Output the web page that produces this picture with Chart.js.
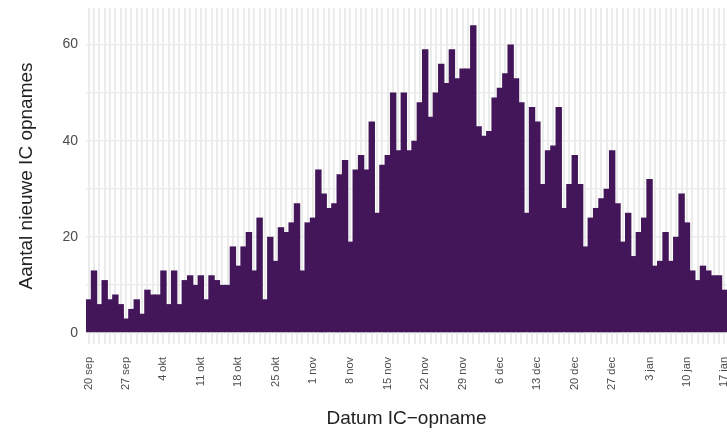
<!DOCTYPE html>
<html>
<head>
<meta charset="utf-8">
<title>IC opnames</title>
<script src="https://cdn.jsdelivr.net/npm/chart.js@4/dist/chart.umd.min.js"></script>
<style>
  html, body { margin: 0; padding: 0; background: #fff; overflow: hidden; }
  #wrap { width: 727px; height: 432px; }
</style>
</head>
<body>
<div id="wrap"><canvas id="chart"></canvas></div>
<script>
// dagelijkse nieuwe IC opnames, vanaf 20 sep
const startDay = new Date(2020, 8, 20);
const monthNames = ['jan', 'feb', 'mrt', 'apr', 'mei', 'jun', 'jul', 'aug', 'sep', 'okt', 'nov', 'dec'];

const admissions = [
  7, 13, 6, 11, 7, 8, 6, 3, 5, 7,
  4, 9, 8, 8, 13, 6, 13, 6, 11, 12,
  10, 12, 7, 12, 11, 10, 10, 18, 14, 18,
  21, 13, 24, 7, 20, 15, 22, 21, 23, 27,
  13, 23, 24, 34, 29, 26, 27, 33, 36, 19,
  34, 37, 34, 44, 25, 35, 37, 50, 38, 50,
  38, 40, 48, 59, 45, 50, 56, 52, 59, 53,
  55, 55, 64, 43, 41, 42, 49, 51, 54, 60,
  53, 48, 25, 47, 44, 31, 38, 39, 47, 26,
  31, 37, 31, 18, 24, 26, 28, 30, 38, 27,
  19, 25, 16, 21, 24, 32, 14, 15, 21, 15,
  20, 29, 23, 13, 11, 14, 13, 12, 12, 9
];

const yTicks = [0, 10, 20, 30, 40, 50, 60];
const yLabelled = [0, 20, 40, 60];
const tickEvery = 7; // een label per week

const days = admissions.map((v, i) => {
  const d = new Date(startDay);
  d.setDate(d.getDate() + i);
  return d.getDate() + ' ' + monthNames[d.getMonth()];
});

const fontFamily = '"Liberation Sans", Arial, sans-serif';
const barColor = '#43165a';
const gridColor = '#ebebeb';

new Chart(document.getElementById('chart'), {
  type: 'bar',
  data: {
    labels: days,
    datasets: [{
      data: admissions,
      backgroundColor: barColor,
      borderWidth: 0,
      barPercentage: 1.2,
      categoryPercentage: 1
    }]
  },
  options: {
    responsive: true,
    maintainAspectRatio: false,
    animation: false,
    layout: { padding: { top: 8, left: 0, right: 0, bottom: 0 } },
    plugins: {
      legend: { display: false },
      tooltip: { enabled: false }
    },
    scales: {
      x: {
        grid: { offset: false, color: gridColor, lineWidth: 2, drawTicks: false },
        border: { display: false },
        ticks: {
          autoSkip: false,
          minRotation: 90,
          maxRotation: 90,
          padding: 13,
          color: '#4d4d4d',
          font: { family: fontFamily, size: 11 },
          callback: function (value, index) {
            return index % tickEvery === 0 ? this.getLabelForValue(value) : '';
          }
        },
        title: {
          display: true,
          text: 'Datum IC\u2212opname',
          color: '#222',
          font: { family: fontFamily, size: 19 },
          padding: { top: 0, bottom: 2 }
        },
        afterFit: (scale) => {
          scale.height = 88;
          scale.paddingLeft = 0;
          scale.paddingRight = 0;
        }
      },
      y: {
        min: -2.3,
        max: 67.6,
        grid: { color: gridColor, lineWidth: 1.5, drawTicks: false },
        border: { display: false },
        afterBuildTicks: (scale) => {
          scale.ticks = yTicks.map(v => ({ value: v }));
        },
        ticks: {
          padding: 8,
          color: '#4d4d4d',
          font: { family: fontFamily, size: 14 },
          callback: (v) => yLabelled.includes(v) ? v : ''
        },
        title: {
          display: true,
          text: 'Aantal nieuwe IC opnames',
          color: '#222',
          font: { family: fontFamily, size: 19 },
          padding: { top: 15, bottom: 0 }
        },
        afterFit: (scale) => {
          scale.width = 86;
          scale.paddingTop = 0;
          scale.paddingBottom = 0;
        }
      }
    }
  }
});
</script>
</body>
</html>
